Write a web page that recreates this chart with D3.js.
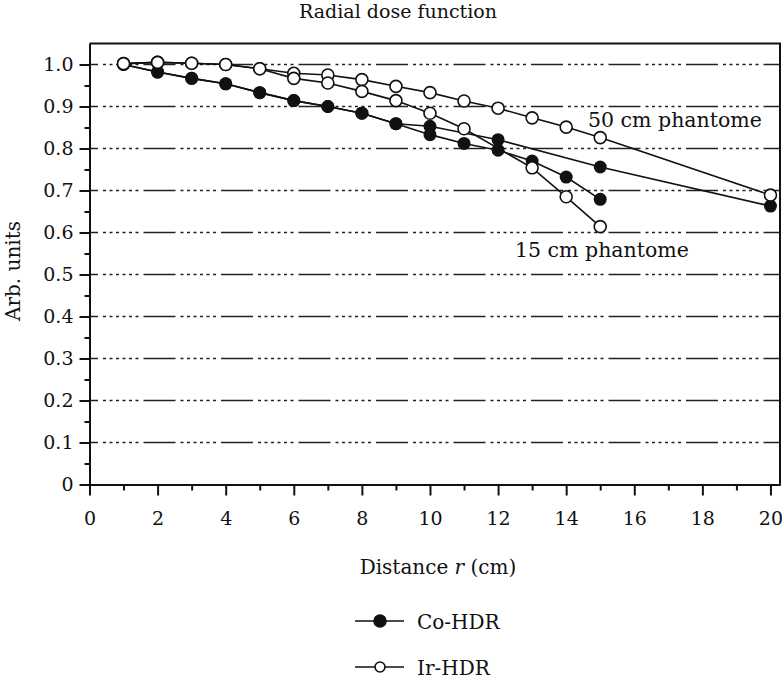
<!DOCTYPE html>
<html>
<head>
<meta charset="utf-8">
<script src="https://cdn.jsdelivr.net/npm/d3@7"></script>
<style>
  body { margin: 0; background: #fff; }
  svg text { font-family: "DejaVu Serif", "Liberation Serif", serif; fill: #111; }
  .axis path, .axis line { stroke: #111; stroke-width: 2; }
</style>
</head>
<body>
<svg width="782" height="678"></svg>
<script>
// distances (cm) and radial dose values
var distCo50 = [1, 2, 3, 4, 5, 6, 7, 8, 9, 10, 12, 15, 20];
var coHdr50 = [1.0, 0.982, 0.967, 0.954, 0.933, 0.914, 0.900, 0.884, 0.859, 0.853, 0.821, 0.756, 0.663];

var distCo15 = [1, 2, 3, 4, 5, 6, 7, 8, 9, 10, 11, 12, 13, 14, 15];
var coHdr15 = [1.0, 0.982, 0.967, 0.954, 0.933, 0.914, 0.900, 0.884, 0.859, 0.833, 0.812, 0.796, 0.770, 0.732, 0.679];

var distIr50 = [1, 2, 3, 4, 5, 6, 7, 8, 9, 10, 11, 12, 13, 14, 15, 20];
var irHdr50 = [1.002, 1.005, 1.003, 1.0, 0.990, 0.979, 0.975, 0.964, 0.948, 0.933, 0.913, 0.896, 0.873, 0.851, 0.826, 0.689];

var distIr15 = [1, 2, 3, 4, 5, 6, 7, 8, 9, 10, 11, 13, 14, 15];
var irHdr15 = [1.002, 1.005, 1.003, 1.0, 0.990, 0.967, 0.956, 0.936, 0.914, 0.884, 0.847, 0.754, 0.685, 0.614];

var xTicks = [0, 2, 4, 6, 8, 10, 12, 14, 16, 18, 20];
var xMinor = [1, 3, 5, 7, 9, 11, 13, 15, 17, 19];
var yTicks = [0, 0.1, 0.2, 0.3, 0.4, 0.5, 0.6, 0.7, 0.8, 0.9, 1.0];
var yMinor = [0.05, 0.15, 0.25, 0.35, 0.45, 0.55, 0.65, 0.75, 0.85, 0.95];

var zip = (xs, ys) => xs.map((d, i) => [d, ys[i]]);
var filled = [zip(distCo50, coHdr50), zip(distCo15, coHdr15)];
var open = [zip(distIr50, irHdr50), zip(distIr15, irHdr15)];

var x = d3.scaleLinear().domain([0, 20.28]).range([89.5, 780]);
var y = d3.scaleLinear().domain([0, 1.05]).range([484.5, 43.5]);

var svg = d3.select("svg");
var g = svg.append("g");

// dash-dot-dot grid
g.append("g")
  .selectAll("line")
  .data(yTicks.slice(1))
  .enter().append("line")
    .attr("x1", x(0))
    .attr("x2", x.range()[1])
    .attr("y1", d => y(d))
    .attr("y2", d => y(d))
    .attr("stroke", "#222")
    .attr("stroke-width", 1.5)
    .attr("stroke-dasharray", "32,5,3,3.5,3,3.5,3,3.5,3,3.5,3,3.5,3,5")
    .attr("stroke-dashoffset", 23.5);

// frame top and right
g.append("path")
  .attr("d", "M" + x(0) + "," + y.range()[1] + "H" + x.range()[1] + "V" + y(0))
  .attr("fill", "none")
  .attr("stroke", "#111")
  .attr("stroke-width", 2);

// y axis
g.append("g")
  .attr("class", "axis")
  .attr("transform", "translate(" + x(0) + ",0)")
  .call(d3.axisLeft(y).tickValues(yMinor).tickSize(5).tickSizeOuter(0).tickFormat(""));
var yAxis = g.append("g")
  .attr("class", "axis")
  .attr("transform", "translate(" + x(0) + ",0)")
  .call(d3.axisLeft(y).tickValues(yTicks).tickSize(10).tickSizeOuter(0)
    .tickFormat(d => d === 0 ? "0" : d3.format(".1f")(d)));
yAxis.selectAll("text")
  .attr("x", -16)
  .style("font-size", "19px");

// x axis
g.append("g")
  .attr("class", "axis")
  .attr("transform", "translate(0," + y(0) + ")")
  .call(d3.axisBottom(x).tickValues(xMinor).tickSize(6).tickSizeOuter(0).tickFormat(""));
var xAxis = g.append("g")
  .attr("class", "axis")
  .attr("transform", "translate(0," + y(0) + ")")
  .call(d3.axisBottom(x).tickValues(xTicks).tickSize(11).tickSizeOuter(0));
xAxis.selectAll("text")
  .attr("y", 40.5)
  .attr("dy", 0)
  .style("font-size", "19px");

// series
var line = d3.line().x(d => x(d[0])).y(d => y(d[1]));
g.selectAll(".series")
  .data(filled.concat(open))
  .enter().append("path")
    .attr("class", "series")
    .attr("d", line)
    .attr("fill", "none")
    .attr("stroke", "#111")
    .attr("stroke-width", 1.6);

filled.forEach(s => {
  g.append("g").selectAll("circle")
    .data(s)
    .enter().append("circle")
      .attr("cx", d => x(d[0]))
      .attr("cy", d => y(d[1]))
      .attr("r", 6.5)
      .attr("fill", "#111");
});
open.forEach(s => {
  g.append("g").selectAll("circle")
    .data(s)
    .enter().append("circle")
      .attr("cx", d => x(d[0]))
      .attr("cy", d => y(d[1]))
      .attr("r", 6)
      .attr("fill", "#fff")
      .attr("stroke", "#111")
      .attr("stroke-width", 1.6);
});

// labels
svg.append("text")
  .attr("x", 398)
  .attr("y", 18)
  .attr("text-anchor", "middle")
  .style("font-size", "19px")
  .text("Radial dose function");

svg.append("text")
  .attr("transform", "translate(20,271) rotate(-90)")
  .attr("text-anchor", "middle")
  .style("font-size", "20px")
  .text("Arb. units");

var xl = svg.append("text")
  .attr("x", 438)
  .attr("y", 574)
  .attr("text-anchor", "middle")
  .style("font-size", "20px");
xl.append("tspan").text("Distance ");
xl.append("tspan").style("font-style", "italic").text("r");
xl.append("tspan").text(" (cm)");

svg.append("text")
  .attr("x", 588)
  .attr("y", 127)
  .style("font-size", "20.5px")
  .text("50 cm phantome");

svg.append("text")
  .attr("x", 515)
  .attr("y", 257)
  .style("font-size", "20.5px")
  .text("15 cm phantome");

// legend
var legendNames = ["Co-HDR", "Ir-HDR"];
var legend = svg.append("g")
  .selectAll("g")
  .data(legendNames)
  .enter().append("g")
    .attr("transform", (d, i) => "translate(355," + (621 + i * 46) + ")");
legend.append("line")
  .attr("x1", 0).attr("x2", 49)
  .attr("stroke", "#111")
  .attr("stroke-width", 1.6);
legend.append("circle")
  .attr("cx", 25)
  .attr("r", (d, i) => i === 0 ? 6 : 5)
  .attr("fill", (d, i) => i === 0 ? "#111" : "#fff")
  .attr("stroke", "#111")
  .attr("stroke-width", 1.6);
legend.append("text")
  .attr("x", 62)
  .attr("y", 7.5)
  .style("font-size", "20px")
  .text(d => d);
</script>
</body>
</html>
